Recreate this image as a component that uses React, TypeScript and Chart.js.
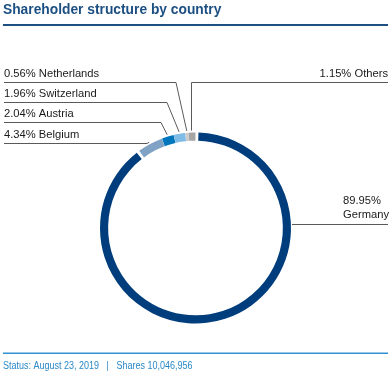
import { useEffect, useRef } from "react";
import { Chart, registerables } from "chart.js";

Chart.register(...registerables);

// ---- data ----
const countries = ["Germany", "Belgium", "Austria", "Switzerland", "Netherlands", "Others"];
const shares = [89.95, 4.34, 2.04, 1.96, 0.56, 1.15];
const shareLabels = ["89.95%", "4.34%", "2.04%", "1.96%", "0.56%", "1.15%"];
const sliceColors = ["#003d7c", "#7fa2c5", "#0076bc", "#7fbde6", "#cccccc", "#a6a6a6"];
const titleText = "Shareholder structure by country";
const footerText = "Status: August 23, 2019   |   Shares 10,046,956";

// ---- label layout (annotation placement only) ----
type LabelLayout = {
  mode: "leftElbow" | "rightVertical" | "rightSide";
  textX: number;
  baseline: number;
  lineY: number;
  elbowX?: number;
};
const labelLayout: LabelLayout[] = [
  { mode: "rightSide", textX: 343, baseline: 204, lineY: 224 },
  { mode: "leftElbow", textX: 4, baseline: 137.5, lineY: 143, elbowX: 147 },
  { mode: "leftElbow", textX: 4, baseline: 116.5, lineY: 122, elbowX: 161 },
  { mode: "leftElbow", textX: 4, baseline: 96.5, lineY: 102, elbowX: 167 },
  { mode: "leftElbow", textX: 4, baseline: 76.5, lineY: 82, elbowX: 176 },
  { mode: "rightVertical", textX: 388, baseline: 76.5, lineY: 82 },
];

const FONT = "'Liberation Sans', Arial, sans-serif";

function drawText(
  ctx: CanvasRenderingContext2D,
  text: string,
  x: number,
  y: number,
  font: string,
  color: string,
  align: CanvasTextAlign = "left",
  sx = 1
) {
  ctx.save();
  ctx.translate(x, y);
  ctx.scale(sx, 1);
  ctx.font = font;
  ctx.fillStyle = color;
  ctx.textAlign = align;
  ctx.textBaseline = "alphabetic";
  ctx.fillText(text, 0, 0);
  ctx.restore();
}

const annotationPlugin = {
  id: "annotations",
  afterDraw(chart: any) {
    const ctx: CanvasRenderingContext2D = chart.ctx;
    const W = chart.width;
    ctx.save();
    // title
    drawText(ctx, titleText, 3, 14, `bold 14px ${FONT}`, "#1c4f82", "left", 0.985);
    ctx.fillStyle = "#1d4f82";
    ctx.fillRect(3, 24, W - 7, 2);
    // footer
    ctx.fillStyle = "#3191d2";
    ctx.fillRect(3, 352.5, W - 7, 1.5);
    drawText(ctx, footerText, 3, 369, `10px ${FONT}`, "#2a88c8", "left", 0.9);

    const meta = chart.getDatasetMeta(0);
    const labelFont = `11.2px ${FONT}`;
    const textColor = "#1a1a1a";
    ctx.strokeStyle = "#5a5a5a";
    ctx.lineWidth = 1;
    meta.data.forEach((arc: any, i: number) => {
      const p = arc.getProps(["x", "y", "startAngle", "endAngle", "outerRadius"], true);
      const L = labelLayout[i];
      const mid = (p.startAngle + p.endAngle) / 2;
      const r = p.outerRadius + 3;
      const ex = p.x + Math.cos(mid) * r;
      const ey = p.y + Math.sin(mid) * r;
      const label = `${shareLabels[i]} ${countries[i]}`;
      ctx.beginPath();
      if (L.mode === "leftElbow") {
        ctx.moveTo(L.textX, L.lineY + 0.5);
        ctx.lineTo(L.elbowX!, L.lineY + 0.5);
        ctx.lineTo(ex, ey);
        ctx.stroke();
        drawText(ctx, label, L.textX, L.baseline, labelFont, textColor, "left");
      } else if (L.mode === "rightVertical") {
        const vx = Math.round(ex) - 0.5;
        ctx.moveTo(L.textX, L.lineY + 0.5);
        ctx.lineTo(vx, L.lineY + 0.5);
        ctx.lineTo(vx, ey);
        ctx.stroke();
        drawText(ctx, label, L.textX, L.baseline, labelFont, textColor, "right");
      } else {
        const dy = L.lineY - p.y;
        const sx = p.x + Math.sqrt(Math.max(p.outerRadius * p.outerRadius - dy * dy, 0)) + 2;
        ctx.moveTo(sx, L.lineY + 0.5);
        ctx.lineTo(W - 4, L.lineY + 0.5);
        ctx.stroke();
        drawText(ctx, shareLabels[i], L.textX, L.baseline, labelFont, textColor, "left");
        drawText(ctx, countries[i], L.textX, L.baseline + 14, labelFont, textColor, "left");
      }
    });
    ctx.restore();
  },
};

export default function App() {
  const ref = useRef<HTMLCanvasElement>(null);
  useEffect(() => {
    document.body.style.margin = "0";
    const chart = new Chart(ref.current!, {
      type: "doughnut",
      data: {
        labels: countries,
        datasets: [
          {
            data: shares,
            backgroundColor: sliceColors,
            borderWidth: 0,
            spacing: 2,
          },
        ],
      },
      options: {
        responsive: false,
        maintainAspectRatio: false,
        animation: false,
        cutout: "91.4%",
        layout: { padding: { left: 100, right: 101, top: 132.5, bottom: 50.5 } },
        plugins: {
          legend: { display: false },
          tooltip: { enabled: false },
          title: { display: false },
        },
      },
      plugins: [annotationPlugin],
    });
    return () => chart.destroy();
  }, []);
  return (
    <div style={{ position: "absolute", left: 0, top: 0, width: 392, height: 374, background: "#fff" }}>
      <canvas ref={ref} width={392} height={374} style={{ width: 392, height: 374, display: "block" }} />
    </div>
  );
}
